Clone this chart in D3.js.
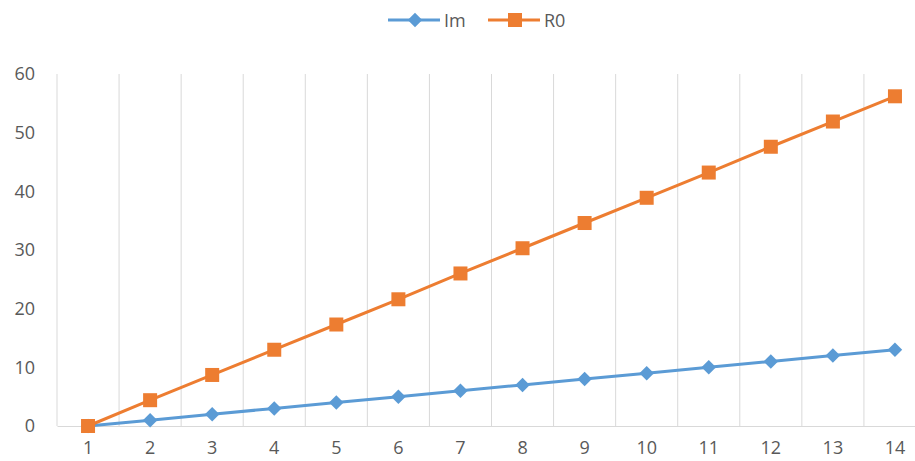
<!DOCTYPE html>
<html>
<head>
<meta charset="utf-8">
<script src="https://cdn.jsdelivr.net/npm/d3@7"></script>
<style>
  html, body { margin: 0; padding: 0; background: #fff; }
  svg { display: block; font-family: "Open Sans", "Noto Sans", sans-serif; }
</style>
</head>
<body>
<svg id="chart" width="915" height="461"></svg>
<script>
// Categories along the x axis
const categories = ["1", "2", "3", "4", "5", "6", "7", "8", "9", "10", "11", "12", "13", "14"];
// Series values
const imValues = [0, 1, 2, 3, 4, 5, 6, 7, 8, 9, 10, 11, 12, 13];
const r0Values = [0, 4.4, 8.7, 13.0, 17.3, 21.6, 26.0, 30.3, 34.6, 38.9, 43.2, 47.6, 51.9, 56.2];
// Y axis ticks
const yTicks = [0, 10, 20, 30, 40, 50, 60];

const series = [
  { name: "Im", values: imValues, color: "#5B9BD5", marker: "diamond" },
  { name: "R0", values: r0Values, color: "#ED7D31", marker: "square" }
];

const svg = d3.select("#chart");
const plot = { left: 57, right: 926, top: 74, bottom: 426 };
const fontSize = 18;

const x = d3.scaleBand().domain(categories).range([plot.left, plot.right]).padding(0);
const y = d3.scaleLinear().domain([0, 60]).range([plot.bottom, plot.top]);
const cx = c => x(c) + x.bandwidth() / 2;

// Vertical gridlines at category boundaries
const bounds = categories.map(c => x(c)).concat([plot.right]);
svg.append("g").selectAll("line").data(bounds).join("line")
  .attr("x1", d => d).attr("x2", d => d)
  .attr("y1", plot.top).attr("y2", plot.bottom)
  .attr("stroke", "#D9D9D9").attr("stroke-width", 1);

// X axis baseline and category labels
const xAxis = d3.axisBottom(x).tickSize(0).tickPadding(15);
const gx = svg.append("g").attr("transform", `translate(0,${plot.bottom})`).call(xAxis);
gx.select(".domain").attr("stroke", "#D9D9D9");
gx.selectAll("text").attr("fill", "#595959").attr("font-size", fontSize).attr("font-family", "Open Sans, sans-serif");

// Y axis labels
const yAxis = d3.axisLeft(y).tickValues(yTicks).tickSize(0).tickPadding(22);
const gy = svg.append("g").attr("transform", `translate(${plot.left},0)`).call(yAxis);
gy.select(".domain").remove();
gy.selectAll("text").attr("fill", "#595959").attr("font-size", fontSize).attr("font-family", "Open Sans, sans-serif");

const diamond = d3.symbol().type(d3.symbolSquare).size(105);
function drawMarker(g, kind, color) {
  if (kind === "square") {
    g.append("rect").attr("x", -7).attr("y", -7).attr("width", 14).attr("height", 14).attr("fill", color);
  } else {
    g.append("path").attr("d", diamond()).attr("transform", "rotate(45)").attr("fill", color);
  }
}

const line = d3.line().x((d, i) => cx(categories[i])).y(d => y(d));

series.forEach(s => {
  svg.append("path").datum(s.values)
    .attr("d", line)
    .attr("fill", "none")
    .attr("stroke", s.color)
    .attr("stroke-width", 3)
    .attr("stroke-linejoin", "round");
  s.values.forEach((v, i) => {
    const g = svg.append("g").attr("transform", `translate(${cx(categories[i])},${y(v)})`);
    drawMarker(g, s.marker, s.color);
  });
});

// Legend
const legendItems = [
  { s: series[0], x: 388 },
  { s: series[1], x: 488 }
];
legendItems.forEach(it => {
  const g = svg.append("g").attr("transform", `translate(${it.x},20)`);
  g.append("line").attr("x1", 0).attr("x2", 52).attr("y1", 0).attr("y2", 0)
    .attr("stroke", it.s.color).attr("stroke-width", 3);
  const m = g.append("g").attr("transform", "translate(27,0)");
  drawMarker(m, it.s.marker, it.s.color);
  g.append("text").attr("x", 56).attr("y", 6.5).text(it.s.name)
    .attr("fill", "#595959").attr("font-size", fontSize);
});
</script>
</body>
</html>
